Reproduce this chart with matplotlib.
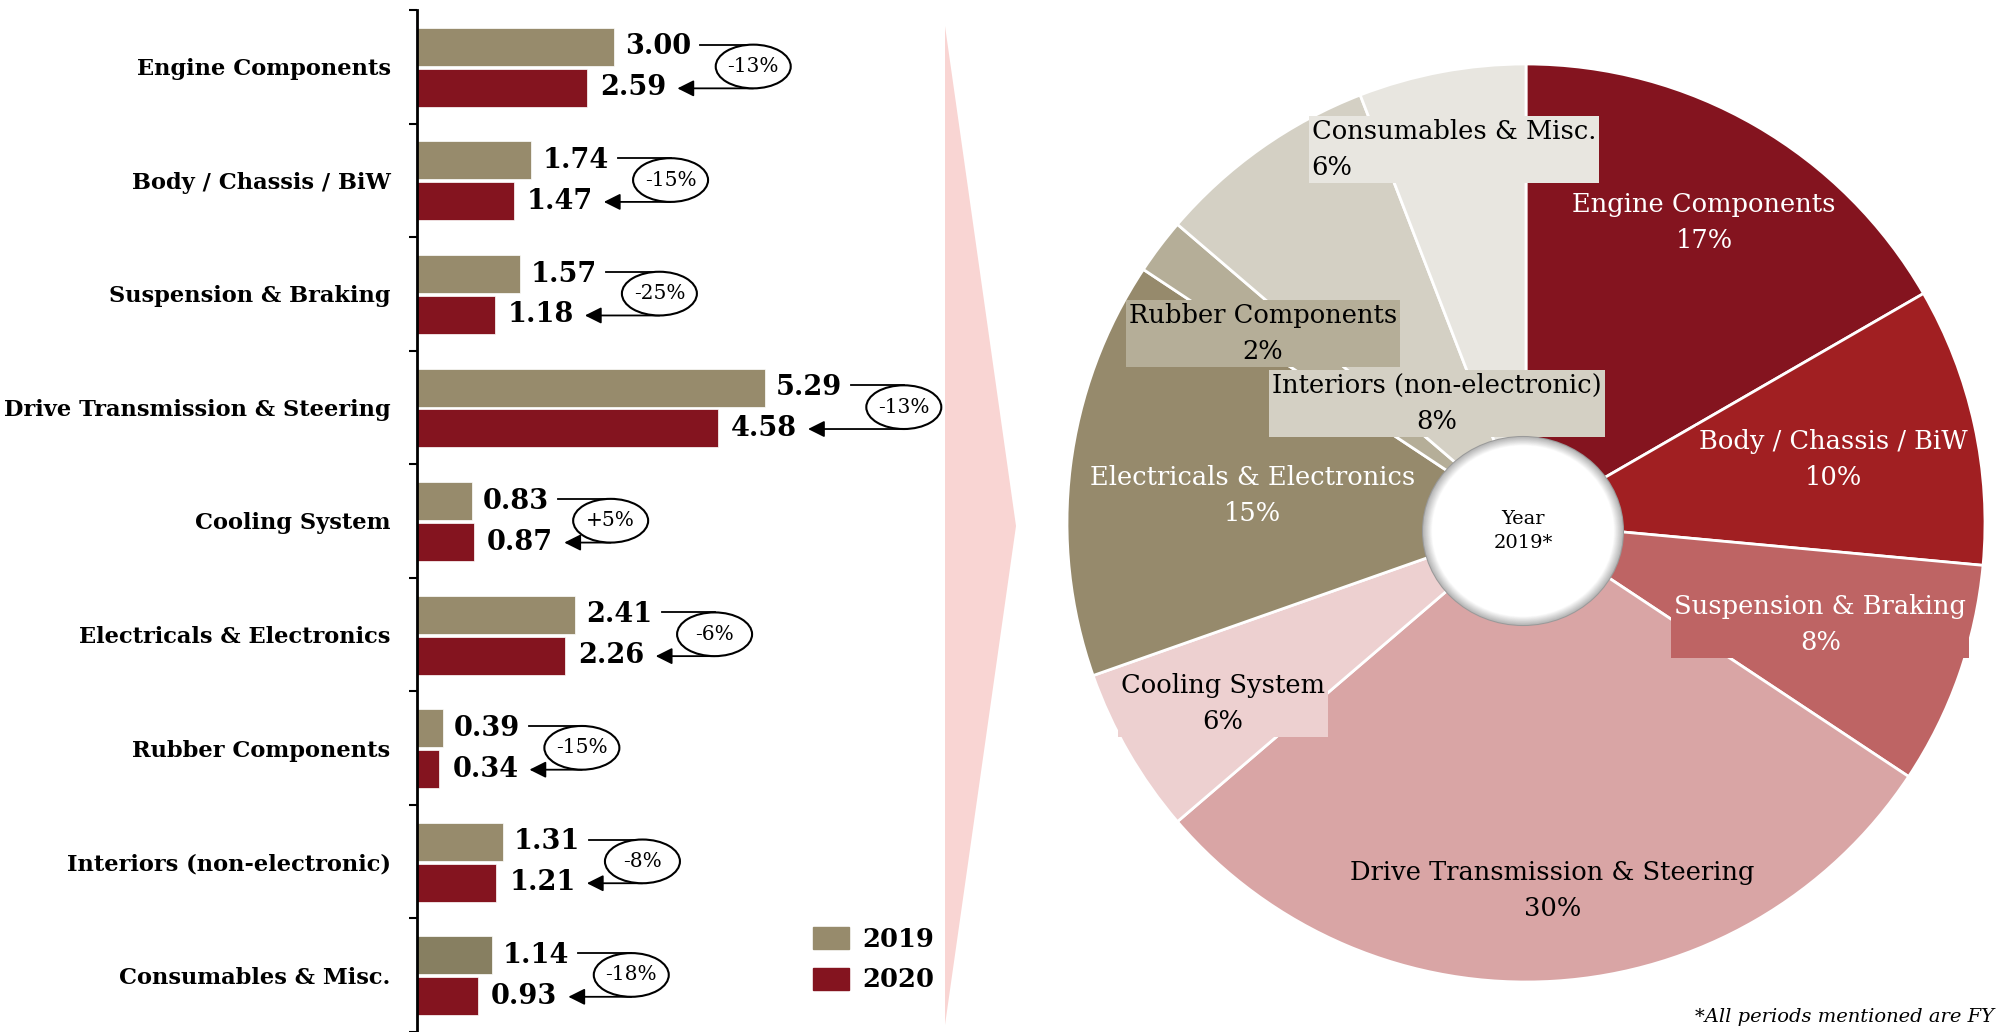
import matplotlib
matplotlib.use('Agg')
import matplotlib.pyplot as plt
from matplotlib.patches import Ellipse, Polygon, Patch
import numpy as np

plt.rcParams['font.family'] = ['DejaVu Serif']

# data
categories = ["Engine Components", "Body / Chassis / BiW", "Suspension & Braking",
              "Drive Transmission & Steering", "Cooling System", "Electricals & Electronics",
              "Rubber Components", "Interiors (non-electronic)", "Consumables & Misc."]
v2019 = [3.00, 1.74, 1.57, 5.29, 0.83, 2.41, 0.39, 1.31, 1.14]
v2020 = [2.59, 1.47, 1.18, 4.58, 0.87, 2.26, 0.34, 1.21, 0.93]
changes = ["-13%", "-15%", "-25%", "-13%", "+5%", "-6%", "-15%", "-8%", "-18%"]
pie_share = [17, 10, 8, 30, 6, 15, 2, 8, 6]

c19 = '#978b6c'
c19_last = '#877f61'
c20 = '#84141f'
pie_colors = ['#84141f', '#a11f22', '#be6464', '#d9a5a5', '#edd0d0',
              '#968a6c', '#b5ae98', '#d4d0c4', '#e8e6e0']
pie_text = ['white', 'white', 'white', 'black', 'black', 'white', 'black', 'black', 'black']
pie_boxed = [False, True, True, False, True, False, True, True, True]
# label centres in pie units (manual placement as in the source)
pie_lab_pos = [(0.388, 0.654), (0.669, 0.139), (0.641, -0.222), (0.057, -0.800),
               (-0.660, -0.394), (-0.595, 0.059), (-0.573, 0.412), (-0.194, 0.261),
               (-0.157, 0.813)]

W, H = 1998, 1032
fig = plt.figure(figsize=(W / 100, H / 100), dpi=100)

def fy(py):
    return 1 - py / H

# ---- left: bars
px_per_unit = 65.7
ax = fig.add_axes([417 / W, 0, 523 / W, 1022 / H])
ax.patch.set_alpha(0)
y = np.arange(len(categories))
cols19 = [c19] * (len(categories) - 1) + [c19_last]
b19 = ax.barh(y - 0.175, v2019, height=0.335, color=cols19, edgecolor='white', linewidth=0.5)
b20 = ax.barh(y + 0.185, v2020, height=0.335, color=c20, edgecolor='white', linewidth=0.5)
ax.set_ylim(len(categories) - 0.5, -0.5)
ax.set_xlim(0, 523 / px_per_unit)
for s in ['top', 'right', 'bottom']:
    ax.spines[s].set_visible(False)
ax.spines['left'].set_linewidth(2)
ax.set_xticks([])
ax.set_yticks(y)
ax.set_yticklabels(categories, fontsize=16.2, fontweight='bold')
ax.tick_params(axis='y', which='major', length=0, pad=19)
ax.set_yticks(np.arange(-0.5, len(categories), 1), minor=True)
ax.tick_params(axis='y', which='minor', length=6, width=1.5, direction='out')

dx = 1 / px_per_unit
t19, t20 = [], []
for i in range(len(categories)):
    t19.append(ax.text(v2019[i] + 11 * dx, i - 0.175, f"{v2019[i]:.2f}", fontsize=19.5,
                       fontweight='bold', va='center', ha='left'))
    t20.append(ax.text(v2020[i] + 13 * dx, i + 0.185, f"{v2020[i]:.2f}", fontsize=19.5,
                       fontweight='bold', va='center', ha='left'))

fig.canvas.draw()
rend = fig.canvas.get_renderer()
inv = ax.transData.inverted()

# change brackets: 2019 value -> ellipse -> arrow to 2020 value
for i in range(len(categories)):
    r19 = inv.transform((t19[i].get_window_extent(rend).x1, 0))[0]
    r20 = inv.transform((t20[i].get_window_extent(rend).x1, 0))[0]
    y19, y20 = i - 0.195, i + 0.19
    x_start = r19 + 9 * dx
    xc = x_start + 53 * dx
    tip = r20 + 11 * dx
    ax.plot([x_start, xc], [y19, y19], color='black', lw=1.3, clip_on=False)
    ax.annotate('', xy=(tip, y20), xytext=(xc, y20),
                arrowprops=dict(arrowstyle='-|>', color='black', lw=1.3,
                                mutation_scale=25, shrinkA=0, shrinkB=0),
                annotation_clip=False)
    ax.add_patch(Ellipse((xc, (y19 + y20) / 2), 75 * dx, y20 - y19, facecolor='white',
                         edgecolor='black', lw=1.5, zorder=5, clip_on=False))
    ax.text(xc, (y19 + y20) / 2, changes[i], ha='center', va='center', fontsize=14.5,
            zorder=6, clip_on=False)

handles = [Patch(color=c19), Patch(color=c20)]
ax.legend(handles, ['2019', '2020'], loc='upper left', bbox_to_anchor=(813 / W, fy(927)),
          bbox_transform=fig.transFigure, frameon=False,
          prop=dict(size=18.5, weight='bold'), handlelength=1.4, handleheight=0.95,
          handletextpad=0.5, labelspacing=0.6, borderpad=0, borderaxespad=0)

# ---- divider arrow
fig.add_artist(Polygon([(945 / W, fy(26)), (1016 / W, fy(526)), (945 / W, fy(1025))],
                       closed=True, transform=fig.transFigure, facecolor='#f9d5d3',
                       edgecolor='none', zorder=0))

# ---- right: pie
cx, cy, R = 1526, 523, 459
ax2 = fig.add_axes([(cx - R) / W, fy(cy + R), 2 * R / W, 2 * R / H])
ax2.pie(pie_share, startangle=90, counterclock=False, colors=pie_colors, radius=1,
        wedgeprops=dict(edgecolor='white', linewidth=2))
ax2.set_xlim(-1, 1)
ax2.set_ylim(-1, 1)
ax2.axis('off')

for i, lab in enumerate(categories):
    box = dict(boxstyle='square,pad=0.12', fc=pie_colors[i], ec='none') if pie_boxed[i] else None
    ax2.text(pie_lab_pos[i][0], pie_lab_pos[i][1], f"{lab}\n{pie_share[i]}%", ha='center',
             va='center', fontsize=18.5, color=pie_text[i], linespacing=1.55,
             multialignment='left' if i == len(categories) - 1 else 'center',
             bbox=box, zorder=4)

# centre disc with a soft inner shadow
ecx, ecy = (1523 - cx) / R, (cy - 531) / R
ew, eh = 200 / R, 188 / R
ax2.add_patch(Ellipse((ecx, ecy), ew, eh, facecolor='#b0b0b0', edgecolor='#9a9a9a',
                      lw=1.5, zorder=6))
for k, t in enumerate(np.linspace(0, 1, 14)):
    g = 0.72 + 0.28 * t
    f = 1 - 0.09 * t
    ax2.add_patch(Ellipse((ecx, ecy), ew * f, eh * f, facecolor=(g, g, g),
                          edgecolor='none', zorder=7 + k * 0.01))
ax2.text(ecx, ecy, "Year\n2019*", ha='center', va='center', fontsize=14,
         linespacing=1.5, zorder=8)

fig.text(1994 / W, fy(1022), "*All periods mentioned are FY", style='italic',
         fontsize=14, ha='right', va='baseline')

fig.savefig('out.png', dpi=100)
